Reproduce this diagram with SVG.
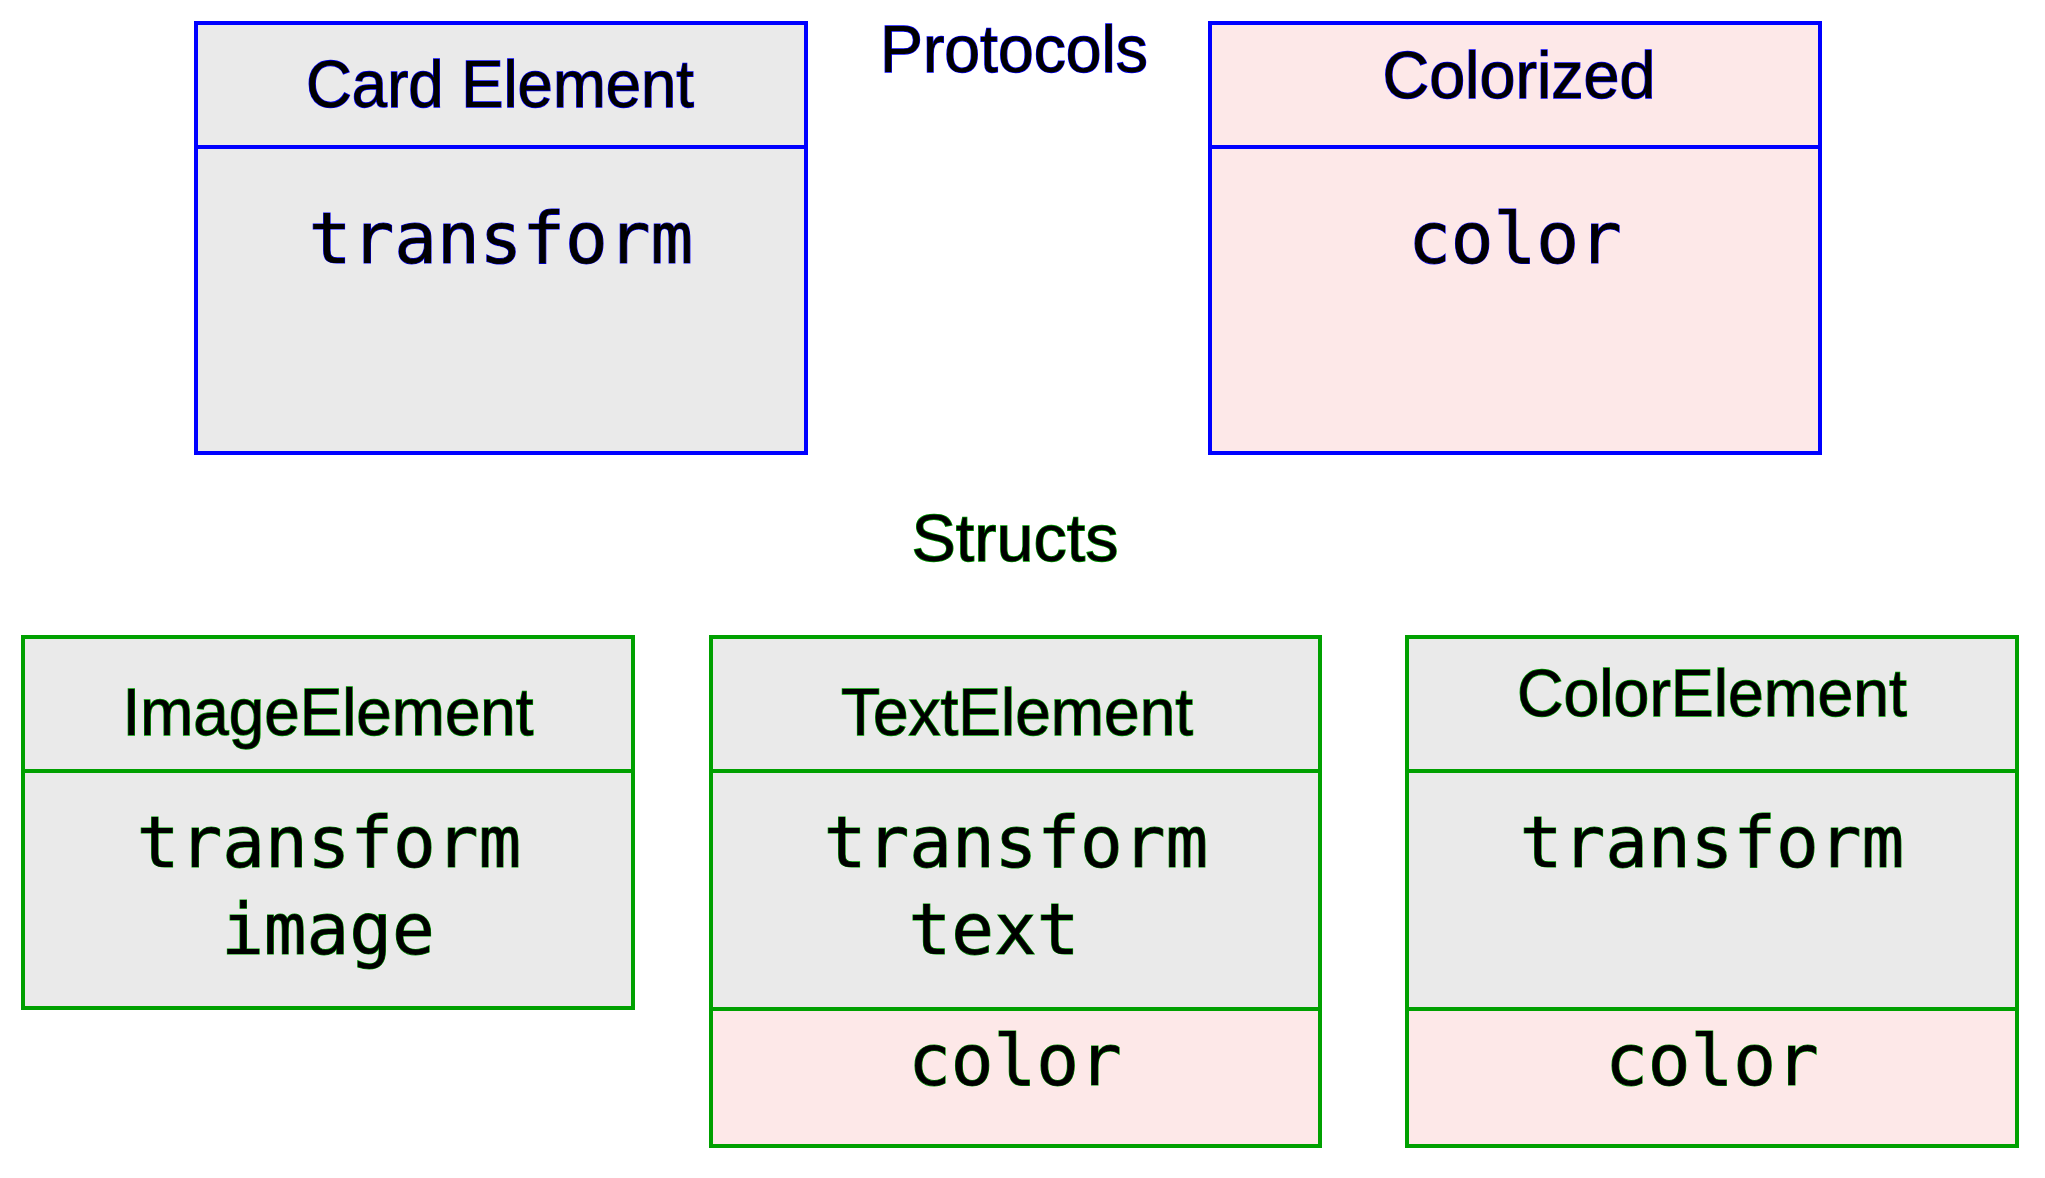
<svg xmlns="http://www.w3.org/2000/svg" width="2045" height="1178" viewBox="0 0 2045 1178">
<style>
.box{stroke-width:4;}
.proto{stroke:#0000ff;}
.strct{stroke:#00a000;}
.gray{fill:#eaeaea;}
.pink{fill:#fde8e8;}
.hdr{font-family:"Liberation Sans",Arial,sans-serif;font-size:67px;fill:#000;text-anchor:middle;stroke-width:1.4;paint-order:stroke;}
.mono{font-family:"DejaVu Sans Mono","Liberation Mono",monospace;font-size:71px;fill:#000;text-anchor:middle;stroke-width:1.1;paint-order:stroke;}
.tb{stroke:#0000ff;}
.tg{stroke:#00a000;}
</style>
<rect width="2045" height="1178" fill="#ffffff"/>
<g id="labels">
<text class="hdr tb" x="1014" y="72" textLength="268" lengthAdjust="spacingAndGlyphs">Protocols</text>
<text class="hdr tg" x="1015" y="561" textLength="207" lengthAdjust="spacingAndGlyphs">Structs</text>
</g>
<g id="card-element">
<rect class="box proto gray" x="196" y="23" width="610" height="430"/>
<line class="box proto" x1="196" y1="147" x2="806" y2="147"/>
<text class="hdr tb" x="500" y="107" textLength="388" lengthAdjust="spacingAndGlyphs">Card Element</text>
<text class="mono tb" x="501" y="263">transform</text>
</g>
<g id="colorized">
<rect class="box proto pink" x="1210" y="23" width="610" height="430"/>
<line class="box proto" x1="1210" y1="147" x2="1820" y2="147"/>
<text class="hdr tb" x="1519" y="98" textLength="273" lengthAdjust="spacingAndGlyphs">Colorized</text>
<text class="mono tb" x="1515" y="263">color</text>
</g>
<g id="image-element">
<rect class="box strct gray" x="23" y="637" width="610" height="371"/>
<line class="box strct" x1="23" y1="771" x2="633" y2="771"/>
<text class="hdr tg" x="328" y="735" textLength="411" lengthAdjust="spacingAndGlyphs">ImageElement</text>
<text class="mono tg" x="329" y="867">transform</text>
<text class="mono tg" x="328" y="954">image</text>
</g>
<g id="text-element">
<rect class="box strct gray" x="711" y="637" width="609" height="372"/>
<rect class="box strct pink" x="711" y="1009" width="609" height="137"/>
<line class="box strct" x1="711" y1="771" x2="1320" y2="771"/>
<text class="hdr tg" x="1017" y="735" textLength="352" lengthAdjust="spacingAndGlyphs">TextElement</text>
<text class="mono tg" x="1016" y="867">transform</text>
<text class="mono tg" x="994" y="954">text</text>
<text class="mono tg" x="1015" y="1085">color</text>
</g>
<g id="color-element">
<rect class="box strct gray" x="1407" y="637" width="610" height="372"/>
<rect class="box strct pink" x="1407" y="1009" width="610" height="137"/>
<line class="box strct" x1="1407" y1="771" x2="2017" y2="771"/>
<text class="hdr tg" x="1712" y="716" textLength="390" lengthAdjust="spacingAndGlyphs">ColorElement</text>
<text class="mono tg" x="1712" y="867">transform</text>
<text class="mono tg" x="1712" y="1085">color</text>
</g>
<g id="connectors"/>
</svg>
